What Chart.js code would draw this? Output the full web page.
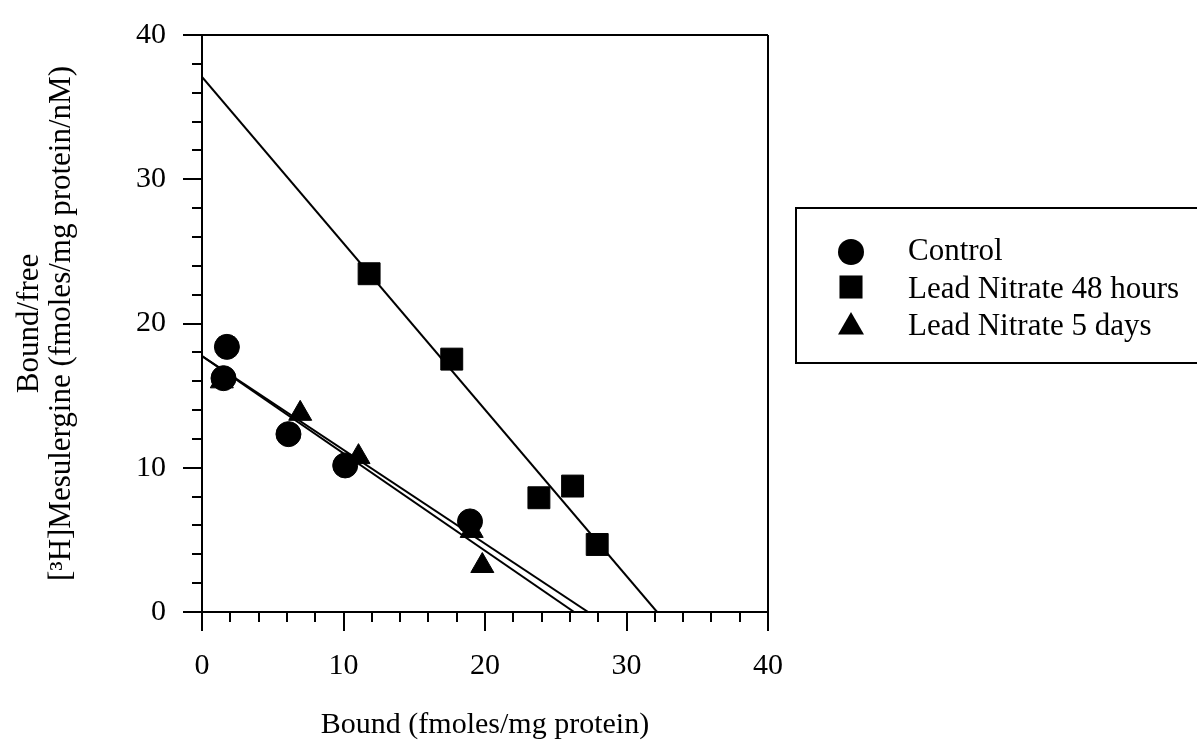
<!DOCTYPE html>
<html>
<head>
<meta charset="utf-8">
<script src="https://cdn.jsdelivr.net/npm/chart.js@4.4.0/dist/chart.umd.min.js"></script>
<style>
    html, body { margin: 0; padding: 0; background: #fff; }
    #grafico { display: block; }
</style>
</head>
<body>
<canvas id="grafico" width="1197" height="745"></canvas>
<script>
// Datos (Bound vs Bound/free)
const controlX = [1.76, 1.52, 6.11, 10.12, 18.94];
const controlY = [18.38, 16.21, 12.33, 10.16, 6.28];

const plomo48hX = [11.81, 17.65, 23.81, 26.19, 27.93];
const plomo48hY = [23.45, 17.53, 7.92, 8.73, 4.68];

const plomo5dX = [1.4, 6.94, 11.06, 19.06, 19.81];
const plomo5dY = [16.0, 13.75, 10.75, 5.63, 3.2];

// Rectas de ajuste (intercepto en y, intercepto en x)
const ajusteControlX = [0, 27.29];
const ajusteControlY = [17.74, 0];
const ajuste48hX = [0, 32.16];
const ajuste48hY = [37.1, 0];
const ajuste5dX = [0, 26.3];
const ajuste5dY = [17.74, 0];

// Etiquetas
const nombresSeries = ['Control', 'Lead Nitrate 48 hours', 'Lead Nitrate 5 days'];
const tituloX = 'Bound (fmoles/mg protein)';
const tituloY = ['Bound/free', '[\u00B3H]Mesulergine (fmoles/mg protein/nM)'];

const fuente = "'Liberation Serif', 'Times New Roman', serif";

// Junta dos arrays en puntos {x, y}
function puntos(xs, ys) {
    return xs.map((x, i) => ({ x: x, y: ys[i] }));
}

function serieLinea(xs, ys) {
    return {
        data: puntos(xs, ys),
        showLine: true,
        borderColor: '#000',
        borderWidth: 2,
        pointRadius: 0,
        xAxisID: 'x',
        yAxisID: 'y'
    };
}

function serieMarcas(xs, ys, estilo, radio) {
    return {
        data: puntos(xs, ys),
        showLine: false,
        pointStyle: estilo,
        pointRadius: radio,
        backgroundColor: '#000',
        borderColor: '#000',
        borderWidth: 1,
        xAxisID: 'x',
        yAxisID: 'y'
    };
}

// Leyenda con recuadro (fuera del area del grafico)
const leyendaPlugin = {
    id: 'leyendaCaja',
    afterDraw(chart) {
        const ctx = chart.ctx;
        const estilos = [
            { pointStyle: 'circle', radius: 13, y: 252 },
            { pointStyle: 'rect', radius: 16.3, y: 287 },
            { pointStyle: 'triangle', radius: 15, y: 327 }
        ];
        const bases = [260, 298, 335];
        ctx.save();
        ctx.strokeStyle = '#000';
        ctx.lineWidth = 2;
        ctx.strokeRect(796, 208, 430, 155);
        ctx.fillStyle = '#000';
        ctx.font = '31px ' + fuente;
        ctx.textBaseline = 'alphabetic';
        ctx.textAlign = 'left';
        estilos.forEach((e, i) => {
            Chart.helpers.drawPoint(ctx, { pointStyle: e.pointStyle, radius: e.radius, rotation: 0, borderWidth: 0 }, 851, e.y);
            ctx.fillText(nombresSeries[i], 908, bases[i]);
        });
        ctx.restore();
    }
};

const ctx1 = document.getElementById('grafico').getContext('2d');

const grafico = new Chart(ctx1, {
    type: 'scatter',
    data: {
        datasets: [
            serieLinea(ajuste48hX, ajuste48hY),
            serieLinea(ajusteControlX, ajusteControlY),
            serieLinea(ajuste5dX, ajuste5dY),
            serieMarcas(controlX, controlY, 'circle', 12.5),
            serieMarcas(plomo48hX, plomo48hY, 'rect', 15.5),
            serieMarcas(plomo5dX, plomo5dY, 'triangle', 13.3)
        ]
    },
    options: {
        responsive: false,
        animation: false,
        layout: { padding: { left: 0, top: 28, right: 429, bottom: 0 } },
        plugins: {
            legend: { display: false },
            tooltip: { enabled: false }
        },
        scales: {
            x: {
                type: 'linear',
                position: 'bottom',
                min: 0,
                max: 40,
                ticks: {
                    stepSize: 10,
                    color: '#000',
                    font: { family: fuente, size: 30 },
                    padding: 17,
                    maxRotation: 0
                },
                grid: {
                    drawOnChartArea: true,
                    color: c => (c.tick && c.tick.value === 40) ? '#000' : 'rgba(0,0,0,0)',
                    tickColor: '#000',
                    tickLength: 19,
                    lineWidth: 2
                },
                border: { display: true, color: '#000', width: 2 },
                title: {
                    display: true,
                    text: tituloX,
                    color: '#000',
                    font: { family: fuente, size: 30 },
                    padding: { top: 0, bottom: 2 }
                },
                afterFit: s => { s.height = 133; }
            },
            xMenor: {
                type: 'linear',
                axis: 'x',
                position: { y: 0 },
                min: 0,
                max: 40,
                ticks: { stepSize: 2, display: false },
                grid: { drawOnChartArea: false, tickLength: 10, color: '#000', lineWidth: 2 },
                border: { display: false }
            },
            y: {
                type: 'linear',
                position: 'left',
                min: 0,
                max: 40,
                ticks: {
                    stepSize: 10,
                    color: '#000',
                    font: { family: fuente, size: 30 },
                    padding: 17
                },
                grid: {
                    drawOnChartArea: true,
                    color: c => (c.tick && c.tick.value === 40) ? '#000' : 'rgba(0,0,0,0)',
                    tickColor: '#000',
                    tickLength: 19,
                    lineWidth: 2
                },
                border: { display: true, color: '#000', width: 2 },
                title: {
                    display: true,
                    text: tituloY,
                    color: '#000',
                    font: { family: fuente, size: 31, lineHeight: 1.03 },
                    padding: { top: 14, bottom: 0 }
                },
                afterFit: s => { s.width = 202; }
            },
            yMenor: {
                type: 'linear',
                axis: 'y',
                position: { x: 0 },
                min: 0,
                max: 40,
                ticks: { stepSize: 2, display: false },
                grid: { drawOnChartArea: false, tickLength: 10, color: '#000', lineWidth: 2 },
                border: { display: false }
            }
        }
    },
    plugins: [leyendaPlugin]
});
</script>
</body>
</html>
